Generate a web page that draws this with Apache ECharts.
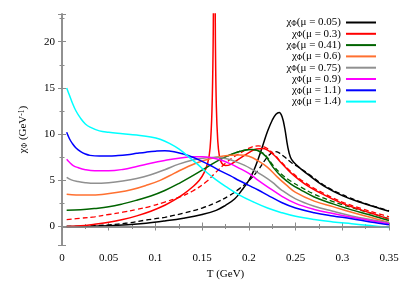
<!DOCTYPE html>
<html><head><meta charset="utf-8">
<script src="https://cdn.jsdelivr.net/npm/echarts@6/dist/echarts.min.js"></script>
<style>html,body{margin:0;padding:0;background:#fff}#c{width:407px;height:285px}</style>
</head><body><div id="c"></div>
<script>
// ---- data ----
const muLabels = ['0.05','0.3','0.41','0.6','0.75','0.9','1.1','1.4'];
const colors = ['#000000','#ff0000','#006400','#ff7030','#909090','#ff00ff','#0000ff','#00ffff'];
const xTicks = [0, 0.05, 0.1, 0.15, 0.2, 0.25, 0.3, 0.35];
const yTicks = [0, 5, 10, 15, 20];

// mu = 0.05 (black)
const tBlack = [0.005,0.03,0.05,0.07,0.09,0.11,0.13,0.15,0.165,0.175,0.185,0.193,0.2,0.205,0.21,0.215,0.22,0.225,0.229,0.2325,0.2355,0.2385,0.2415,0.2445,0.248,0.255,0.265,0.28,0.3,0.32,0.34,0.35];
const vBlack = [0.0,0.02,0.07,0.18,0.35,0.6,0.9,1.3,1.75,2.3,3.0,4.0,5.0,6.0,7.3,8.8,10.3,11.5,12.15,12.35,11.9,10.6,8.7,7.5,6.95,6.3,5.5,4.4,3.35,2.6,1.95,1.65];
// mu = 0.05 dashed (black)
const tBlackD = [0.005,0.03,0.05,0.07,0.09,0.11,0.13,0.15,0.165,0.18,0.19,0.2,0.21,0.218,0.223,0.227,0.232,0.238,0.245,0.255,0.265,0.28,0.3,0.32,0.34,0.35];
const vBlackD = [0.0,0.06,0.18,0.38,0.7,1.0,1.45,2.0,2.6,3.4,4.1,4.95,6.1,7.3,7.85,8.1,8.0,7.55,6.95,6.3,5.6,4.5,3.45,2.65,2.0,1.7];
// mu = 0.3 (red)
const tRed = [0.005,0.02,0.035,0.05,0.065,0.08,0.095,0.11,0.12,0.13,0.14,0.147,0.152,0.156,0.1585,0.1605,0.1618,0.1627,0.1635,0.1642,0.1652,0.1667,0.1685,0.171,0.175,0.18,0.19,0.2,0.208,0.215,0.225,0.235,0.245,0.26,0.28,0.3,0.32,0.34,0.35];
const vRed = [0.0,0.08,0.25,0.45,0.75,1.15,1.65,2.3,2.85,3.5,4.3,5.0,5.8,6.9,8.5,12.5,20,32,30,20,13,9.3,7.6,6.85,6.6,6.7,7.35,8.0,8.4,8.45,7.9,6.85,5.8,4.6,3.45,2.5,1.8,1.15,0.8];
// mu = 0.3 dashed (red)
const tRedD = [0.005,0.02,0.035,0.05,0.065,0.08,0.095,0.11,0.125,0.14,0.155,0.165,0.175,0.185,0.195,0.203,0.21,0.218,0.226,0.235,0.245,0.26,0.28,0.3,0.32,0.34,0.35];
const vRedD = [0.75,0.9,1.05,1.3,1.55,1.85,2.2,2.65,3.15,3.85,4.9,5.9,6.85,7.6,8.2,8.6,8.72,8.55,7.9,6.95,5.95,4.75,3.6,2.65,1.95,1.35,1.05];
// mu = 0.41 (green)
const tGreen = [0.005,0.02,0.035,0.05,0.065,0.08,0.095,0.11,0.125,0.14,0.155,0.17,0.185,0.195,0.203,0.21,0.218,0.226,0.235,0.245,0.255,0.27,0.29,0.31,0.33,0.35];
const vGreen = [1.77,1.82,1.95,2.13,2.45,2.85,3.3,3.9,4.65,5.5,6.4,7.3,7.95,8.25,8.33,8.2,7.6,6.4,5.4,4.6,4.0,3.2,2.45,1.8,1.25,0.65];
// mu = 0.41 dashed (green)
const tGreenD = [0.17,0.185,0.195,0.203,0.21,0.218,0.226,0.235,0.245,0.255,0.27,0.29,0.31,0.33,0.35];
const vGreenD = [7.3,7.95,8.25,8.33,8.2,7.7,6.6,5.65,4.9,4.3,3.5,2.7,2.05,1.45,0.85];
// mu = 0.6 (orange)
const tOrange = [0.005,0.015,0.03,0.045,0.06,0.075,0.09,0.105,0.12,0.135,0.15,0.165,0.18,0.19,0.2,0.21,0.22,0.23,0.24,0.25,0.27,0.29,0.31,0.33,0.35];
const vOrange = [3.48,3.4,3.4,3.5,3.7,4.0,4.45,5.0,5.75,6.5,7.1,7.5,7.72,7.75,7.6,7.1,6.4,5.4,4.5,3.7,2.75,2.15,1.55,1.0,0.45];
// mu = 0.75 (gray)
const tGray = [0.005,0.01,0.017,0.025,0.035,0.05,0.065,0.08,0.095,0.11,0.125,0.14,0.155,0.165,0.175,0.185,0.195,0.205,0.215,0.225,0.235,0.25,0.27,0.29,0.31,0.33,0.35];
const vGray = [5.32,5.05,4.88,4.75,4.68,4.75,4.93,5.2,5.6,6.15,6.75,7.2,7.45,7.5,7.35,7.05,6.65,6.1,5.5,4.8,3.95,3.0,2.2,1.65,1.15,0.75,0.4];
// mu = 0.9 (magenta)
const tMag = [0.005,0.008,0.012,0.017,0.025,0.035,0.05,0.065,0.08,0.095,0.11,0.125,0.14,0.15,0.16,0.17,0.18,0.19,0.2,0.21,0.22,0.235,0.25,0.27,0.29,0.31,0.33,0.35];
const vMag = [7.27,6.95,6.6,6.38,6.15,6.03,6.03,6.18,6.5,6.85,7.15,7.4,7.55,7.55,7.45,7.2,6.8,6.3,5.75,5.0,4.3,3.3,2.5,1.85,1.4,1.0,0.65,0.3];
// mu = 1.1 (blue)
const tBlue = [0.005,0.008,0.011,0.015,0.02,0.025,0.03,0.04,0.05,0.06,0.07,0.08,0.09,0.1,0.11,0.12,0.13,0.14,0.15,0.16,0.17,0.18,0.19,0.2,0.21,0.22,0.235,0.25,0.27,0.29,0.31,0.33,0.35];
const vBlue = [10.2,9.5,9.0,8.5,8.1,7.85,7.7,7.62,7.62,7.68,7.78,7.92,8.05,8.15,8.2,8.1,7.85,7.5,7.05,6.55,6.0,5.5,4.95,4.45,3.95,3.4,2.6,2.0,1.5,1.15,0.85,0.5,0.2];
// mu = 1.4 (cyan)
const tCyan = [0.005,0.008,0.011,0.015,0.02,0.025,0.03,0.04,0.05,0.065,0.08,0.095,0.105,0.115,0.125,0.135,0.145,0.155,0.165,0.175,0.19,0.205,0.22,0.235,0.25,0.27,0.29,0.31,0.33,0.35];
const vCyan = [15.0,14.2,13.4,12.5,11.7,11.1,10.75,10.35,10.2,10.05,9.9,9.7,9.45,9.0,8.4,7.6,6.75,5.85,5.05,4.35,3.4,2.65,2.0,1.5,1.1,0.75,0.5,0.3,0.1,-0.1];

// ---- build ----
const solid = [[tBlack,vBlack],[tRed,vRed],[tGreen,vGreen],[tOrange,vOrange],[tGray,vGray],[tMag,vMag],[tBlue,vBlue],[tCyan,vCyan]];
const dashed = [[tBlackD,vBlackD,0],[tRedD,vRedD,1],[tGreenD,vGreenD,2]];
const zip = (t,v)=>t.map((x,i)=>[x,v[i]]);
const FONT = 'Liberation Serif';
const series = [];
dashed.forEach(([t,v,ci],k)=>{
  series.push({type:'line', name:'d'+k, data:zip(t,v), showSymbol:false, symbol:'none', smooth:0.4,
    lineStyle:{color:colors[ci], width:1.3, type:[5,3]}, itemStyle:{color:colors[ci]}, z:3, animation:false});
});
solid.forEach(([t,v],i)=>{
  series.push({type:'line', name:muLabels[i], data:zip(t,v), showSymbol:false, symbol:'none', smooth:0.4,
    lineStyle:{color:colors[i], width:1.5}, itemStyle:{color:colors[i]}, z:4, animation:false});
});
series[0].markLine = {silent:true, symbol:'none', label:{show:false}, animation:false,
  lineStyle:{color:'#8c8c8c', width:1.6, type:'solid'}, data:[{yAxis:0}]};

const axisCol = '#8c8c8c';
const xBase = {type:'value', min:0, max:0.35, interval:0.05,
  axisLine:{show:true, lineStyle:{color:axisCol, width:1.6}},
  axisTick:{show:true, inside:true, length:4, lineStyle:{color:axisCol}},
  minorTick:{show:true, splitNumber:2, length:2.5, lineStyle:{color:axisCol}},
  splitLine:{show:false}};
const yBase = {type:'value', min:-2, max:23, splitNumber:5,
  axisLine:{show:true, lineStyle:{color:axisCol, width:1.6}},
  axisTick:{show:true, inside:true, length:4, lineStyle:{color:axisCol}},
  minorTick:{show:true, splitNumber:2, length:2.5, lineStyle:{color:axisCol}},
  splitLine:{show:false}};

const rich = {
  a:{fontFamily:FONT, fontSize:11, color:'#000', lineHeight:11},
  s:{fontFamily:FONT, fontSize:7.5, color:'#000', lineHeight:7, verticalAlign:'bottom'},
  p:{fontFamily:FONT, fontSize:7.5, color:'#000', lineHeight:7, verticalAlign:'top'}
};

const chart = echarts.init(document.getElementById('c'), null, {renderer:'canvas'});
chart.setOption({
  animation:false,
  backgroundColor:'#fff',
  grid:{left:62, right:18, top:14, bottom:37},
  legend:{data:muLabels, orient:'vertical', right:31, top:17, align:'right', padding:0,
    icon:'rect', itemWidth:30, itemHeight:2, itemGap:0.3,
    formatter:(n)=>'{a|χ}{s|Φ}{a|(μ = '+n+')}',
    textStyle:{fontFamily:FONT, fontSize:11, color:'#000', rich:rich}},
  xAxis:[Object.assign({}, xBase, {position:'bottom', name:'T (GeV)', nameLocation:'middle', nameGap:24,
      nameTextStyle:{fontFamily:FONT, fontSize:11, color:'#000'},
      axisLabel:{fontFamily:FONT, fontSize:11, color:'#000', margin:8,
        formatter:(v)=> xTicks.some(t=>Math.abs(t-v)<1e-9) ? String(+v.toFixed(2)) : ''}}),
    Object.assign({}, xBase, {position:'top', axisLabel:{show:false}})],
  yAxis:[Object.assign({}, yBase, {position:'left', name:'{a|χ}{s|Φ}{a| (GeV}{p|-1}{a|)}', nameLocation:'middle', nameRotate:90, nameGap:33,
      nameTextStyle:{fontFamily:FONT, fontSize:11, color:'#000', rich:rich},
      axisLabel:{fontFamily:FONT, fontSize:11, color:'#000', margin:7, showMinLabel:false, showMaxLabel:false,
        formatter:(v)=> yTicks.includes(v) ? String(v) : ''}}),
    Object.assign({}, yBase, {position:'right', axisLabel:{show:false}})],
  series:series
});
</script></body></html>
